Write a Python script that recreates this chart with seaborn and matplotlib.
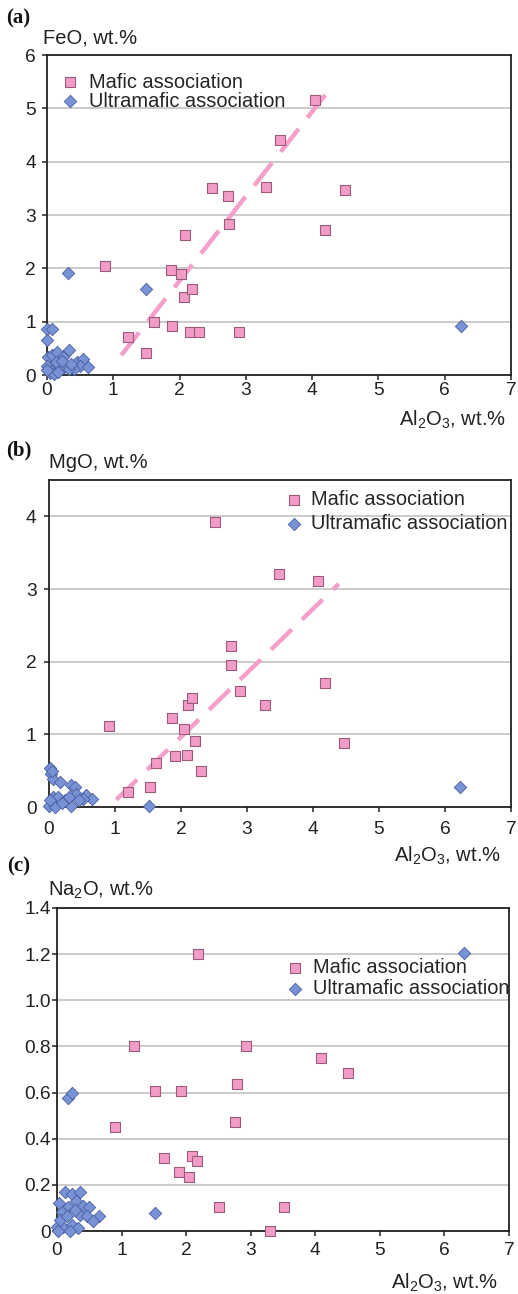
import numpy as np
import pandas as pd
import matplotlib
matplotlib.use("Agg")
import matplotlib.pyplot as plt
import seaborn as sns

# ---------------- data ----------------
series_names = ["Mafic association", "Ultramafic association"]

# Panel (a): FeO vs Al2O3
a_maf_al = [0.88, 1.22, 1.50, 1.62, 1.87, 1.89, 2.02, 2.06, 2.08, 2.15, 2.18,
            2.30, 2.49, 2.73, 2.75, 2.90, 3.30, 3.52, 4.05, 4.19, 4.50]
a_maf_feo = [2.05, 0.72, 0.42, 0.99, 1.96, 0.91, 1.90, 1.47, 2.63, 0.80, 1.61,
             0.80, 3.51, 3.36, 2.84, 0.80, 3.53, 4.40, 5.15, 2.71, 3.46]
a_ult_al = [0.31, 1.50, 6.24, 0.00, 0.07, 0.00, 0.02, 0.08, 0.15, 0.33, 0.24,
            0.14, 0.00, 0.26, 0.45, 0.54, 0.50, 0.62, 0.40, 0.08, 0.05, 0.10,
            0.33, 0.22, 0.00, 0.17, 0.36]
a_ult_feo = [1.91, 1.62, 0.92, 0.87, 0.86, 0.66, 0.33, 0.38, 0.43, 0.47, 0.33,
             0.25, 0.17, 0.15, 0.24, 0.30, 0.17, 0.15, 0.11, 0.08, 0.03, 0.01,
             0.12, 0.27, 0.10, 0.06, 0.20]
a_trend_al = [1.12, 4.26]
a_trend_feo = [0.37, 5.35]

# Panel (b): MgO vs Al2O3
b_maf_al = [0.91, 1.19, 1.53, 1.62, 1.86, 1.91, 2.04, 2.09, 2.10, 2.16, 2.21,
            2.30, 2.51, 2.76, 2.76, 2.90, 3.28, 3.49, 4.07, 4.18, 4.47]
b_maf_mgo = [1.11, 0.21, 0.28, 0.60, 1.22, 0.70, 1.08, 0.72, 1.40, 1.50, 0.91,
             0.50, 3.92, 2.22, 1.96, 1.59, 1.40, 3.20, 3.11, 1.71, 0.88]
b_ult_al = [1.52, 6.23, 0.01, 0.03, 0.06, 0.16, 0.34, 0.39, 0.00, 0.06, 0.14,
            0.24, 0.09, 0.33, 0.41, 0.56, 0.65, 0.51, 0.31, 0.46, 0.01, 0.20,
            0.04]
b_ult_mgo = [0.01, 0.28, 0.53, 0.46, 0.39, 0.34, 0.30, 0.28, 0.01, 0.14, 0.14,
             0.09, 0.00, 0.01, 0.18, 0.16, 0.11, 0.11, 0.14, 0.09, 0.09, 0.05,
             0.49]
b_trend_al = [1.02, 4.39]
b_trend_mgo = [0.10, 3.07]

# Panel (c): Na2O vs Al2O3
c_maf_al = [0.90, 1.19, 1.51, 1.65, 1.89, 1.92, 2.04, 2.09, 2.17, 2.19, 2.51,
            2.76, 2.78, 2.92, 3.30, 3.52, 4.09, 4.51]
c_maf_na = [0.449, 0.80, 0.606, 0.316, 0.255, 0.606, 0.232, 0.327, 0.304, 1.20,
            0.103, 0.471, 0.635, 0.804, 0.0, 0.103, 0.75, 0.686]
c_ult_al = [0.175, 0.23, 1.51, 6.30, 0.12, 0.23, 0.35, 0.03, 0.17, 0.29, 0.40,
            0.49, 0.07, 0.36, 0.46, 0.65, 0.56, 0.00, 0.10, 0.23, 0.33, 0.05,
            0.15, 0.28, 0.02, 0.20]
c_ult_na = [0.577, 0.599, 0.08, 1.207, 0.171, 0.16, 0.17, 0.12, 0.106, 0.132,
            0.11, 0.106, 0.083, 0.070, 0.063, 0.063, 0.044, 0.019, 0.019, 0.026,
            0.012, 0.048, 0.063, 0.090, 0.0, 0.0]

x_ticks = [0, 1, 2, 3, 4, 5, 6, 7]
a_yticks = [0, 1, 2, 3, 4, 5, 6]
b_yticks = [0, 1, 2, 3, 4]
c_yticks = [0, 0.2, 0.4, 0.6, 0.8, 1.0, 1.2, 1.4]
c_yticklabels = ["0", "0.2", "0.4", "0.6", "0.8", "1.0", "1.2", "1.4"]

panel_letters = ["(a)", "(b)", "(c)"]
y_titles = ["FeO, wt.%", "MgO, wt.%", r"Na$_2$O, wt.%"]
x_title = r"Al$_2$O$_3$, wt.%"

# ---------------- style ----------------
sns.set_style("ticks")
plt.rcParams["font.family"] = ["Liberation Sans", "DejaVu Sans"]
plt.rcParams["mathtext.fontset"] = "custom"
plt.rcParams["mathtext.rm"] = "Liberation Sans"
plt.rcParams["mathtext.default"] = "regular"

PINK = "#F29CC7"
PINK_EDGE = "#9A5C7C"
TREND = "#F4A0CA"
BLUE = "#7892D6"
BLUE_EDGE = "#4A5E9E"
GRID = "#BDBDBD"
TXT = "#222222"

W, H = 518, 1294
fig = plt.figure(figsize=(W / 100, H / 100), dpi=100)
fig.patch.set_facecolor("white")


def add_ax(l, t, r, b):
    return fig.add_axes([l / W, 1 - b / H, (r - l) / W, (b - t) / H])


def ftext(x, y, s, **kw):
    fig.text(x / W, 1 - y / H, s, **kw)


def draw_panel(ax, maf_x, maf_y, ult_x, ult_y, trend_x, trend_y, ylim, yticks,
               yticklabels, xpad, ypad):
    if trend_x is not None:
        sns.lineplot(x=trend_x, y=trend_y, color=TREND, lw=3.2,
                     linestyle=(0, (6.5, 3.2)), ax=ax, zorder=2,
                     solid_capstyle="butt", dash_capstyle="butt")
    sns.scatterplot(x=maf_x, y=maf_y, marker="s", s=54, color=PINK,
                    edgecolor=PINK_EDGE, linewidth=0.8,
                    label=series_names[0], ax=ax, zorder=3, clip_on=False)
    sns.scatterplot(x=ult_x, y=ult_y, marker="D", s=40, color=BLUE,
                    edgecolor=BLUE_EDGE, linewidth=0.6,
                    label=series_names[1], ax=ax, zorder=4, clip_on=False)
    ax.set_xlim(0, 7)
    ax.set_ylim(*ylim)
    ax.set_xticks(x_ticks)
    ax.set_yticks(yticks)
    ax.set_yticklabels(yticklabels)
    ax.set_xlabel("")
    ax.set_ylabel("")
    ax.yaxis.grid(True, color=GRID, lw=1.1)
    ax.xaxis.grid(False)
    ax.set_axisbelow(True)
    for sp in ax.spines.values():
        sp.set_visible(True)
        sp.set_color("#222222")
        sp.set_linewidth(1.3)
    ax.tick_params(axis="both", direction="out", length=3.5, width=1.1,
                   color="#222222", labelsize=13.8, labelcolor=TXT)
    ax.tick_params(axis="x", pad=xpad)
    ax.tick_params(axis="y", pad=ypad)


# Panel (a)
ax_a = add_ax(47, 55, 511, 375)
draw_panel(ax_a, a_maf_al, a_maf_feo, a_ult_al, a_ult_feo, a_trend_al,
           a_trend_feo, (0, 6), a_yticks, [str(v) for v in a_yticks], 1.3, 4.5)
ax_a.legend(loc="upper left", bbox_to_anchor=(0.028, 0.945), frameon=False,
            borderpad=0, borderaxespad=0, handlelength=1.0, handletextpad=0.45,
            labelspacing=0.0, fontsize=14.4)

# Panel (b)
ax_b = add_ax(49, 480, 511, 807)
draw_panel(ax_b, b_maf_al, b_maf_mgo, b_ult_al, b_ult_mgo, b_trend_al,
           b_trend_mgo, (0, 4.5), b_yticks, [str(v) for v in b_yticks], 6.5, 5.5)
ax_b.legend(loc="upper left", bbox_to_anchor=(0.508, 0.97), frameon=False,
            borderpad=0, borderaxespad=0, handlelength=1.0, handletextpad=0.35,
            labelspacing=0.28, fontsize=14.4)

# Panel (c)
ax_c = add_ax(57, 908, 509, 1231)
draw_panel(ax_c, c_maf_al, c_maf_na, c_ult_al, c_ult_na, None, None,
           (0, 1.4), c_yticks, c_yticklabels, 4.2, 0.8)
ax_c.legend(loc="upper left", bbox_to_anchor=(0.505, 0.845), frameon=False,
            borderpad=0, borderaxespad=0, handlelength=1.0, handletextpad=0.4,
            labelspacing=0.1, fontsize=14.4)

# Titles and labels
serif = ["Liberation Serif", "DejaVu Serif"]
for (lx, ly), letter in zip([(6, 18), (6, 450), (7, 866)], panel_letters):
    ftext(lx, ly, letter, family=serif, weight="bold", fontsize=15,
          ha="left", va="center", color="#111111")
for (lx, ly), t in zip([(43, 38), (49, 462), (48, 890)], y_titles):
    ftext(lx, ly, t, fontsize=14.5, ha="left", va="center", color=TXT)
for (rx, ry) in [(506, 420), (501, 856), (498, 1283)]:
    ftext(rx, ry, x_title, fontsize=14.5, ha="right", va="center", color=TXT)

fig.savefig("out.png", dpi=100, facecolor="white")
